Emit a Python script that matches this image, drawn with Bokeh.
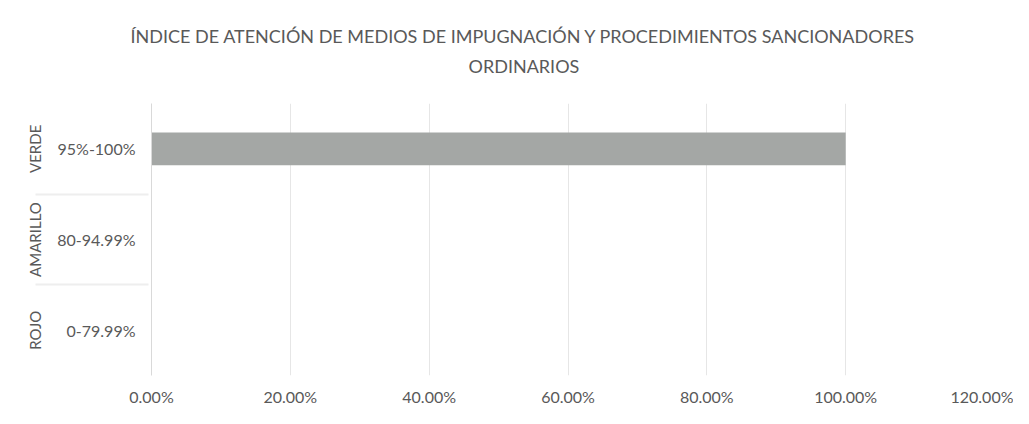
from bokeh.plotting import figure
from bokeh.models import (ColumnDataSource, FactorRange, FixedTicker, NumeralTickFormatter,
                          Title, Range1d)
from bokeh.embed import file_html
from bokeh.resources import INLINE

# ---- data ----
groups = ["ROJO", "AMARILLO", "VERDE"]
ranges = ["0-79.99%", "80-94.99%", "95%-100%"]
values = [0.0, 0.0, 1.0]
x_ticks = [0.0, 0.2, 0.4, 0.6, 0.8, 1.0, 1.2]
title_line1 = "ÍNDICE DE ATENCIÓN DE MEDIOS DE IMPUGNACIÓN Y PROCEDIMIENTOS SANCIONADORES"
title_line2 = "ORDINARIOS"

factors = list(zip(groups, ranges))
src = ColumnDataSource(dict(y=factors, v=values))

FONT = "Lato"
TXT = "#595959"

p = figure(width=1013, height=408, output_backend="svg", toolbar_location=None,
           y_range=FactorRange(*factors, range_padding=0, factor_padding=0,
                               group_padding=0, subgroup_padding=0),
           x_range=Range1d(0, 1.2),
           min_border_left=151, min_border_right=29, min_border_top=103,
           min_border_bottom=30)

p.hbar(y="y", right="v", left=0, height=0.36, source=src,
       fill_color="#a4a7a5", line_color=None)

p.title.visible = False

spacer = Title(text=" ", text_font=FONT, text_font_size="16px", standoff=0)
t2 = Title(text=title_line2, align="left", offset=317, text_font=FONT,
           text_font_size="18px", text_font_style="normal", text_color=TXT, standoff=12)
t1 = Title(text=title_line1, align="left", offset=-21, text_font=FONT,
           text_font_size="18px", text_font_style="normal", text_color=TXT, standoff=0)
p.add_layout(spacer, "above")
p.add_layout(t2, "above")
p.add_layout(t1, "above")

p.outline_line_color = None
p.background_fill_color = "white"
p.border_fill_color = "white"

# x axis
xa = p.xaxis[0]
xa.ticker = FixedTicker(ticks=x_ticks)
xa.formatter = NumeralTickFormatter(format="0.00%")
xa.axis_line_color = None
xa.major_tick_line_color = None
xa.minor_tick_line_color = None
xa.major_label_standoff = 5
xa.major_label_text_font = FONT
xa.major_label_text_font_size = "16px"
xa.major_label_text_color = TXT

# y axis
ya = p.yaxis[0]
ya.axis_line_color = "#d9d9d9"
ya.major_tick_line_color = None
ya.minor_tick_line_color = None
ya.major_label_standoff = 10
ya.major_label_text_font = FONT
ya.major_label_text_font_size = "16px"
ya.major_label_text_color = TXT
ya.group_label_orientation = "vertical"
ya.group_text_font = FONT
ya.group_text_font_size = "15px"
ya.group_text_color = TXT
ya.group_text_font_style = "normal"
ya.separator_line_color = "#eeeeee"

p.xgrid.grid_line_color = "#e6e6e6"
p.ygrid.grid_line_color = None

open("out.html", "w").write(file_html(p, INLINE))
